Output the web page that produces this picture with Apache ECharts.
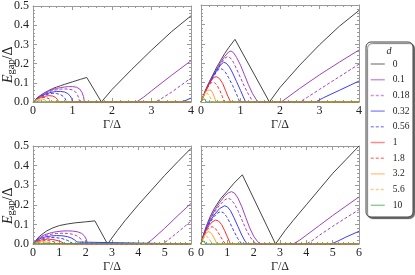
<!DOCTYPE html>
<html>
<head>
<meta charset="utf-8">
<script src="https://cdn.jsdelivr.net/npm/echarts@6/dist/echarts.min.js"></script>
<style>
html,body{margin:0;padding:0;background:#fff;}
#c{width:415px;height:275px;}
</style>
</head>
<body>
<div id="c"></div>
<script>
// ---- data ----
const dLabels = ['0', '0.1', '0.18', '0.32', '0.56', '1', '1.8', '3.2', '5.6', '10'];
const xMaxTop = 4;
const xMaxBottom = 6;
const yTickValues = [0, 0.1, 0.2, 0.3, 0.4, 0.5];
const xLabel = 'Γ/Δ';

// top-left panel: curves in the order of dLabels, points [Γ/Δ, E_gap/Δ]
const panelTopLeft = [
  [[0,0],[0.1,0.02],[0.2,0.036],[0.3,0.049],[0.4,0.06],[0.5,0.07],[0.6,0.078],[0.7,0.085],[0.8,0.092],[1.0,0.105],[1.2,0.118],[1.36,0.128],[1.732,0],[2.0,0.065],[2.5,0.17],[3.0,0.27],[3.5,0.365],[4.0,0.449]],
  [[0,0],[0.1,0.02],[0.2,0.035],[0.3,0.047],[0.4,0.057],[0.5,0.065],[0.6,0.071],[0.7,0.075],[0.8,0.078],[0.9,0.08],[1.0,0.08],[1.1,0.077],[1.18,0.068],[1.24,0.05],[1.28,0.028],[1.3,0],[2.62,0],[2.8,0.025],[3.0,0.058],[3.5,0.138],[4,0.215]],
  [[0,0],[0.1,0.019],[0.2,0.033],[0.3,0.044],[0.4,0.053],[0.5,0.06],[0.6,0.064],[0.7,0.067],[0.8,0.068],[0.9,0.067],[1.0,0.063],[1.08,0.052],[1.13,0.035],[1.16,0.02],[1.18,0],[3.1,0],[3.25,0.018],[3.5,0.05],[4,0.125]],
  [[0,0],[0.1,0.018],[0.2,0.031],[0.3,0.04],[0.4,0.047],[0.5,0.052],[0.6,0.055],[0.7,0.055],[0.8,0.052],[0.88,0.044],[0.94,0.032],[0.98,0.018],[1.0,0],[3.73,0],[3.85,0.007],[4,0.02]],
  [[0,0],[0.1,0.016],[0.2,0.028],[0.3,0.036],[0.4,0.042],[0.5,0.045],[0.6,0.044],[0.7,0.038],[0.77,0.029],[0.82,0.016],[0.85,0],[4,0]],
  [[0,0],[0.1,0.014],[0.2,0.024],[0.3,0.03],[0.4,0.033],[0.5,0.031],[0.57,0.024],[0.62,0.013],[0.65,0],[4,0]],
  [[0,0],[0.08,0.012],[0.16,0.019],[0.25,0.024],[0.33,0.023],[0.41,0.017],[0.46,0.01],[0.5,0],[4,0]],
  [[0,0],[0.06,0.009],[0.12,0.014],[0.18,0.016],[0.24,0.015],[0.3,0.01],[0.36,0],[4,0]],
  [[0,0],[0.05,0.006],[0.1,0.009],[0.14,0.01],[0.19,0.008],[0.25,0],[4,0]],
  [[0,0],[0.04,0.004],[0.08,0.005],[0.12,0.003],[0.15,0],[4,0]]
];

const panelTopRight = [
  [[0,0],[0.1,0.055],[0.2,0.1],[0.3,0.14],[0.4,0.18],[0.5,0.215],[0.6,0.25],[0.7,0.28],[0.86,0.323],[1.732,0],[2.0,0.075],[2.5,0.19],[3.0,0.295],[3.5,0.39],[4.0,0.472]],
  [[0,0],[0.1,0.05],[0.2,0.095],[0.3,0.135],[0.4,0.17],[0.5,0.205],[0.6,0.235],[0.7,0.258],[0.76,0.263],[0.82,0.255],[0.9,0.23],[1.0,0.19],[1.1,0.14],[1.2,0.09],[1.3,0.045],[1.4,0.012],[1.46,0],[2.03,0],[2.2,0.025],[2.5,0.07],[3,0.14],[3.5,0.205],[4,0.268]],
  [[0,0],[0.1,0.05],[0.2,0.094],[0.3,0.133],[0.4,0.168],[0.5,0.198],[0.6,0.225],[0.67,0.234],[0.74,0.228],[0.82,0.205],[0.9,0.17],[1.0,0.125],[1.1,0.08],[1.2,0.04],[1.28,0.013],[1.33,0],[2.5,0],[2.7,0.025],[3,0.065],[3.5,0.13],[4,0.195]],
  [[0,0],[0.1,0.049],[0.2,0.092],[0.3,0.13],[0.4,0.163],[0.5,0.192],[0.57,0.205],[0.64,0.2],[0.72,0.18],[0.8,0.15],[0.9,0.105],[1.0,0.06],[1.07,0.027],[1.13,0],[2.9,0],[3.1,0.022],[3.5,0.06],[4,0.108]],
  [[0,0],[0.1,0.048],[0.2,0.09],[0.3,0.125],[0.4,0.158],[0.48,0.173],[0.55,0.168],[0.63,0.15],[0.7,0.125],[0.8,0.085],[0.9,0.04],[0.95,0.015],[0.98,0],[4,0]],
  [[0,0],[0.08,0.04],[0.16,0.075],[0.24,0.105],[0.33,0.128],[0.4,0.13],[0.47,0.12],[0.55,0.095],[0.62,0.06],[0.68,0.03],[0.75,0],[4,0]],
  [[0,0],[0.07,0.035],[0.14,0.065],[0.21,0.088],[0.28,0.102],[0.34,0.1],[0.41,0.085],[0.48,0.058],[0.54,0.028],[0.59,0],[4,0]],
  [[0,0],[0.05,0.025],[0.1,0.045],[0.15,0.06],[0.2,0.066],[0.25,0.062],[0.3,0.045],[0.34,0.025],[0.38,0],[4,0]],
  [[0,0],[0.04,0.018],[0.08,0.033],[0.12,0.042],[0.16,0.045],[0.2,0.038],[0.24,0.022],[0.28,0],[4,0]],
  [[0,0],[0.03,0.014],[0.06,0.022],[0.08,0.022],[0.1,0.015],[0.13,0],[4,0]]
];

const panelBottomLeft = [
  [[0,0],[0.1,0.017],[0.25,0.04],[0.5,0.065],[0.75,0.082],[1.0,0.094],[1.3,0.102],[1.6,0.108],[2.0,0.113],[2.35,0.118],[2.83,0],[3.2,0.068],[3.5,0.12],[4,0.2],[4.5,0.275],[5,0.35],[5.5,0.42],[6,0.488]],
  [[0,0],[0.1,0.015],[0.2,0.028],[0.35,0.041],[0.5,0.05],[0.7,0.058],[0.9,0.063],[1.1,0.066],[1.3,0.067],[1.5,0.066],[1.7,0.062],[1.85,0.054],[1.95,0.042],[2.02,0.025],[2.07,0],[4.29,0],[4.5,0.02],[5,0.08],[5.5,0.145],[6,0.207]],
  [[0,0],[0.1,0.014],[0.2,0.026],[0.35,0.037],[0.5,0.044],[0.7,0.05],[0.9,0.054],[1.1,0.055],[1.3,0.054],[1.5,0.05],[1.65,0.043],[1.78,0.031],[1.86,0.016],[1.91,0],[4.92,0],[5.1,0.017],[5.5,0.06],[6,0.117]],
  [[0,0],[0.1,0.013],[0.2,0.023],[0.35,0.032],[0.5,0.037],[0.7,0.041],[0.9,0.043],[1.1,0.042],[1.3,0.038],[1.45,0.031],[1.58,0.021],[1.67,0.01],[1.72,0],[6,0]],
  [[0,0],[0.1,0.011],[0.2,0.019],[0.35,0.026],[0.5,0.03],[0.7,0.033],[0.9,0.032],[1.1,0.028],[1.3,0.019],[1.45,0.009],[1.53,0],[6,0]],
  [[0,0],[0.1,0.009],[0.2,0.016],[0.35,0.022],[0.55,0.025],[0.75,0.023],[0.95,0.017],[1.1,0.009],[1.21,0],[6,0]],
  [[0,0],[0.1,0.007],[0.25,0.014],[0.45,0.018],[0.65,0.016],[0.82,0.01],[0.99,0],[6,0]],
  [[0,0],[0.1,0.006],[0.2,0.01],[0.35,0.012],[0.5,0.01],[0.63,0.006],[0.75,0],[6,0]],
  [[0,0],[0.1,0.005],[0.25,0.008],[0.4,0.006],[0.55,0],[6,0]],
  [[0,0],[0.08,0.003],[0.18,0.004],[0.28,0.002],[0.35,0],[6,0]]
];

const panelBottomRight = [
  [[0,0],[0.1,0.05],[0.2,0.09],[0.35,0.14],[0.5,0.18],[0.75,0.232],[1.0,0.27],[1.25,0.31],[1.57,0.353],[2.83,0],[3.2,0.07],[3.5,0.12],[4,0.2],[4.5,0.28],[5,0.36],[5.5,0.43],[6,0.5]],
  [[0,0],[0.1,0.048],[0.2,0.085],[0.35,0.13],[0.5,0.168],[0.7,0.21],[0.9,0.245],[1.05,0.262],[1.16,0.267],[1.27,0.26],[1.4,0.235],[1.55,0.19],[1.7,0.135],[1.85,0.082],[2.0,0.04],[2.15,0.012],[2.27,0],[3.5,0],[3.75,0.02],[4,0.045],[4.5,0.095],[5,0.145],[5.5,0.193],[6,0.24]],
  [[0,0],[0.1,0.047],[0.2,0.083],[0.35,0.125],[0.5,0.16],[0.7,0.197],[0.9,0.225],[1.02,0.233],[1.13,0.228],[1.27,0.205],[1.42,0.165],[1.57,0.118],[1.72,0.072],[1.87,0.035],[2.0,0.012],[2.12,0],[4.0,0],[4.25,0.02],[4.5,0.045],[5,0.09],[5.5,0.133],[6,0.175]],
  [[0,0],[0.1,0.046],[0.2,0.08],[0.35,0.118],[0.5,0.148],[0.7,0.18],[0.89,0.195],[1.0,0.19],[1.12,0.17],[1.25,0.135],[1.4,0.09],[1.55,0.045],[1.67,0.015],[1.76,0],[4.95,0],[5.2,0.015],[5.5,0.035],[6,0.065]],
  [[0,0],[0.1,0.044],[0.2,0.077],[0.35,0.112],[0.5,0.14],[0.62,0.157],[0.74,0.165],[0.85,0.16],[0.97,0.14],[1.1,0.108],[1.25,0.065],[1.4,0.027],[1.55,0],[6,0]],
  [[0,0],[0.1,0.04],[0.2,0.07],[0.3,0.093],[0.42,0.112],[0.55,0.122],[0.66,0.118],[0.78,0.1],[0.9,0.068],[1.0,0.037],[1.07,0.015],[1.12,0],[6,0]],
  [[0,0],[0.08,0.032],[0.16,0.055],[0.25,0.073],[0.33,0.084],[0.42,0.088],[0.52,0.083],[0.62,0.066],[0.72,0.043],[0.82,0.02],[0.93,0],[6,0]],
  [[0,0],[0.06,0.022],[0.12,0.04],[0.19,0.054],[0.27,0.063],[0.35,0.06],[0.43,0.047],[0.52,0.025],[0.61,0],[6,0]],
  [[0,0],[0.05,0.016],[0.1,0.03],[0.15,0.039],[0.2,0.042],[0.26,0.037],[0.32,0.025],[0.37,0.012],[0.42,0],[6,0]],
  [[0,0],[0.03,0.012],[0.06,0.02],[0.09,0.021],[0.12,0.015],[0.17,0],[6,0]]
];

// ---- styles ----
const lineColors = ['#444444','#a33fc0','#a33fc0','#3a3aff','#3a3aff','#ff2a2a','#ff2a2a','#ffa030','#ffa030','#3aa03a'];
const lineDashed = [false,false,true,false,true,false,true,false,true,false];
const SERIF = '"Liberation Serif", "DejaVu Serif", serif';
const FRAME = '#9a9a9a';

const panels = [panelTopLeft, panelTopRight, panelBottomLeft, panelBottomRight];
const panelXMax = [xMaxTop, xMaxTop, xMaxBottom, xMaxBottom];
const grids = [
  {left: 33, top: 5, width: 158, height: 97},
  {left: 201, top: 5, width: 158, height: 97},
  {left: 33, top: 146, width: 158, height: 98},
  {left: 201, top: 146, width: 158, height: 98}
];

const chart = echarts.init(document.getElementById('c'), null, {renderer: 'canvas'});

const xAxes = [], yAxes = [], series = [];
const tickCommon = (len) => ({show: true, inside: true, length: len, lineStyle: {color: FRAME, width: 1}});
const minorCommon = {show: true, splitNumber: 5, length: 2, lineStyle: {color: FRAME, width: 1}};
for (let p = 0; p < 4; p++) {
  const showYLabels = (p % 2 === 0);
  xAxes.push({
    type: 'value', gridIndex: p, position: 'bottom', min: 0, max: panelXMax[p], interval: 1,
    axisLine: {show: true, onZero: false, lineStyle: {color: FRAME, width: 1}},
    axisTick: tickCommon(4), minorTick: minorCommon, splitLine: {show: false},
    axisLabel: {show: true, margin: 3, color: '#222', fontFamily: SERIF, fontSize: 12},
    name: xLabel, nameLocation: 'middle', nameGap: 17,
    nameTextStyle: {color: '#222', fontFamily: SERIF, fontSize: 12}
  });
  yAxes.push({
    type: 'value', gridIndex: p, position: 'left', min: 0, max: 0.5, interval: 0.1,
    axisLine: {show: true, onZero: false, lineStyle: {color: FRAME, width: 1}},
    axisTick: tickCommon(4), minorTick: minorCommon, splitLine: {show: false},
    axisLabel: {show: showYLabels, margin: 4, color: '#222', fontFamily: SERIF, fontSize: 12,
      formatter: v => yTickValues.indexOf(Math.round(v * 10) / 10) >= 0 ? v.toFixed(1) : ''}
  });
}
for (let p = 0; p < 4; p++) {
  xAxes.push({
    type: 'value', gridIndex: p, position: 'top', min: 0, max: panelXMax[p], interval: 1,
    axisLine: {show: true, onZero: false, lineStyle: {color: FRAME, width: 1}},
    axisTick: tickCommon(4), minorTick: minorCommon, splitLine: {show: false}, axisLabel: {show: false}
  });
  yAxes.push({
    type: 'value', gridIndex: p, position: 'right', min: 0, max: 0.5, interval: 0.1,
    axisLine: {show: true, onZero: false, lineStyle: {color: FRAME, width: 1}},
    axisTick: tickCommon(4), minorTick: minorCommon, splitLine: {show: false}, axisLabel: {show: false}
  });
}

for (let p = 0; p < 4; p++) {
  for (let i = 0; i < dLabels.length; i++) {
    series.push({
      type: 'line', name: dLabels[i], xAxisIndex: p, yAxisIndex: p,
      data: panels[p][i], symbol: 'none', showSymbol: false, smooth: false,
      animation: false, silent: true,
      lineStyle: {color: lineColors[i], width: 1, type: lineDashed[i] ? [3, 2] : 'solid'},
      itemStyle: {color: lineColors[i]}
    });
  }
}

const labelText = (txt, x, y, size, italic) => ({
  type: 'text', z: 21, x: x, y: y, rotation: Math.PI / 2,
  style: {text: txt, fontFamily: SERIF, fontSize: size, fontStyle: italic ? 'italic' : 'normal',
          fill: '#222', align: 'left', verticalAlign: 'middle'}
});
function yName(yStart) {
  // reading bottom-to-top: E, subscript gap, /Δ
  return [
    labelText('E', 8, yStart, 14, true),
    labelText('gap', 11.5, yStart - 8.5, 10.5, false),
    labelText('/Δ', 8, yStart - 23.5, 14, false)
  ];
}

chart.setOption({
  backgroundColor: '#fff',
  animation: false,
  grid: grids,
  xAxis: xAxes,
  yAxis: yAxes,
  series: series,
  legend: {
    orient: 'vertical', left: 370, top: 59, padding: 0,
    itemWidth: 14, itemHeight: 10, itemGap: 5.7,
    selectedMode: false, z: 20,
    data: dLabels,
    itemStyle: {opacity: 0, borderWidth: 0},
    lineStyle: {width: 1.5, opacity: 0.55},
    textStyle: {fontFamily: SERIF, fontSize: 9.5, color: '#222', padding: [0, 0, 0, 3]}
  },
  graphic: [
    {type: 'rect', z: 5, shape: {x: 366, y: 42, width: 47, height: 175, r: 5},
     style: {fill: '#fff', stroke: '#444', lineWidth: 1, shadowColor: 'rgba(0,0,0,0.55)', shadowBlur: 1, shadowOffsetX: 1.5, shadowOffsetY: 1.5}},
    {type: 'text', z: 21, x: 389, y: 51,
     style: {text: 'd', fontFamily: SERIF, fontStyle: 'italic', fontSize: 10, fill: '#222', align: 'center', verticalAlign: 'middle'}}
  ].concat(yName(83), yName(224))
});
</script>
</body>
</html>
